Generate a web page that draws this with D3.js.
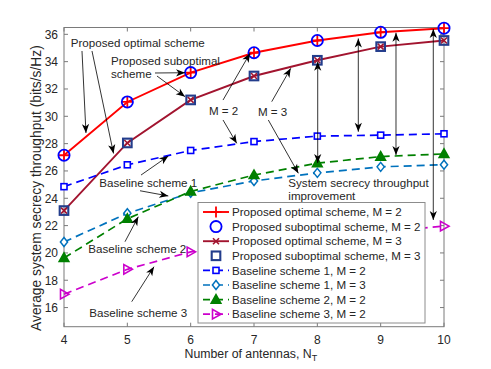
<!DOCTYPE html>
<html>
<head>
<meta charset="utf-8">
<script src="https://cdn.jsdelivr.net/npm/d3@7"></script>
<style>
  body { margin: 0; background: #fff; }
  svg text { font-family: "Liberation Sans", Arial, Helvetica, sans-serif; fill: #262626; }
</style>
</head>
<body>
<svg id="chart"></svg>
<script>
var width = 491,
  height = 369;

// x values: number of antennas
var antennas = [4, 5, 6, 7, 8, 9, 10];
var xTicks = [4, 5, 6, 7, 8, 9, 10];
var yTicks = [16, 18, 20, 22, 24, 26, 28, 30, 32, 34, 36];

// series values
var optimalM2 = [27.15, 31.05, 33.2, 34.65, 35.55, 36.15, 36.45];
var suboptimalM2 = [27.15, 31.05, 33.2, 34.65, 35.55, 36.15, 36.45];
var optimalM3 = [23.1, 28.05, 31.2, 32.95, 34.1, 35.1, 35.55];
var suboptimalM3 = [23.1, 28.05, 31.2, 32.95, 34.1, 35.1, 35.55];
var baseline1M2 = [24.85, 26.45, 27.5, 28.15, 28.55, 28.62, 28.72];
var baseline1M3 = [20.8, 22.9, 24.4, 25.27, 25.86, 26.3, 26.46];
var baseline2M2 = [19.63, 22.5, 24.5, 25.7, 26.57, 27.05, 27.25];
var baseline3M2 = [16.98, 18.8, 20.08, 20.6, 21.1, 21.55, 21.96];

var seriesNames = [
  "Proposed optimal scheme, M = 2",
  "Proposed suboptimal scheme, M = 2",
  "Proposed optimal scheme, M = 3",
  "Proposed suboptimal scheme, M = 3",
  "Baseline scheme 1, M = 2",
  "Baseline scheme 1, M = 3",
  "Baseline scheme 2, M = 2",
  "Baseline scheme 3, M = 2"
];
var seriesValues = [optimalM2, suboptimalM2, optimalM3, suboptimalM3, baseline1M2, baseline1M3, baseline2M2, baseline3M2];

var styles = [
  { color: "#ff0000", line: "solid", marker: "plus" },
  { color: "#0000ff", line: "none", marker: "circle" },
  { color: "#a2142f", line: "solid", marker: "cross" },
  { color: "#233d8c", line: "none", marker: "square" },
  { color: "#0000ff", line: "dash", marker: "smallsquare" },
  { color: "#0072bd", line: "dash", marker: "diamond" },
  { color: "#008000", line: "dash", marker: "triangle" },
  { color: "#cc00cc", line: "dash", marker: "righttri" }
];

// text annotations, in data coordinates
var notes = [
  { x: 4.106, y: 35.05, lines: ["Proposed optimal scheme"] },
  { x: 4.742, y: 33.76, lines: ["Proposed suboptimal", "scheme"] },
  { x: 6.289, y: 30.1, lines: ["M = 2"] },
  { x: 7.063, y: 30.02, lines: ["M = 3"] },
  { x: 7.542, y: 24.86, lines: ["System secrecy throughput", "improvement"] },
  { x: 4.557, y: 24.79, lines: ["Baseline scheme 1"] },
  { x: 4.384, y: 19.96, lines: ["Baseline scheme 2"] },
  { x: 4.399, y: 15.31, lines: ["Baseline scheme 3"] }
];

// arrows [x1, y1, x2, y2, doubleHeaded, lowerEnd]
var arrows = [
  [4.284, 34.78, 4.347, 28.78, false],
  [4.442, 34.78, 4.782, 27.28, false],
  [5.437, 33.17, 5.911, 33.19, false],
  [5.468, 32.95, 5.911, 31.44, false],
  [6.511, 31.19, 6.937, 34.61, false],
  [6.511, 29.73, 6.727, 28.02, false],
  [7.28, 31.07, 7.58, 33.51, false],
  [7.226, 29.73, 7.70, 25.83, false],
  [5.216, 25.7, 5.647, 27.09, false],
  [5.2, 24.55, 5.647, 24.17, false],
  [4.963, 20.82, 5.173, 22.65, false],
  [5.069, 16.43, 5.421, 18.99, false],
  [8.006, 30.0, 8.006, 34.0, true, 26.58],
  [8.647, 32.0, 8.647, 35.7, true, 28.87],
  [9.242, 32.0, 9.242, 36.12, true, 27.17],
  [9.831, 30.0, 9.831, 36.39, true, 22.41]
];

var plotLeft = 64, plotRight = 444, plotTop = 27.5, plotBottom = 326.7;

var x = d3.scaleLinear().domain([4, 10]).range([plotLeft, plotRight]);
var y = d3.scaleLinear().domain([14.6, 36.5]).range([plotBottom, plotTop]);

var svg = d3.select("#chart")
  .attr("width", width)
  .attr("height", height);

var fontSize = 11.6;

// box + ticks
var axisColor = "#7a7a7a";
svg.append("rect")
  .attr("x", plotLeft).attr("y", plotTop)
  .attr("width", plotRight - plotLeft).attr("height", plotBottom - plotTop)
  .attr("fill", "none").attr("stroke", axisColor).attr("stroke-width", 1);

var tickLen = 4;
xTicks.forEach(function (t) {
  svg.append("line").attr("x1", x(t)).attr("x2", x(t)).attr("y1", plotBottom).attr("y2", plotBottom - tickLen).attr("stroke", axisColor);
  svg.append("line").attr("x1", x(t)).attr("x2", x(t)).attr("y1", plotTop).attr("y2", plotTop + tickLen).attr("stroke", axisColor);
  svg.append("text").attr("x", x(t)).attr("y", plotBottom + 17)
    .attr("text-anchor", "middle").attr("font-size", 12).text(t);
});
yTicks.forEach(function (t) {
  svg.append("line").attr("x1", plotLeft).attr("x2", plotLeft + tickLen).attr("y1", y(t)).attr("y2", y(t)).attr("stroke", axisColor);
  svg.append("line").attr("x1", plotRight).attr("x2", plotRight - tickLen).attr("y1", y(t)).attr("y2", y(t)).attr("stroke", axisColor);
  svg.append("text").attr("x", plotLeft - 6).attr("y", y(t) + 4.3)
    .attr("text-anchor", "end").attr("font-size", 12).text(t);
});

// axis labels
var xl = svg.append("text").attr("x", 184.5).attr("y", 357.5).attr("font-size", 12.3);
xl.append("tspan").text("Number of antennas, N");
xl.append("tspan").attr("dy", 3.5).attr("font-size", 9).text("T");

svg.append("text")
  .attr("transform", "translate(41," + ((plotTop + plotBottom) / 2 + 11) + ") rotate(-90)")
  .attr("text-anchor", "middle").attr("font-size", 13.8)
  .text("Average system secrecy throughput (bits/s/Hz)");

// marker drawing
function drawMarker(g, type, color, cx, cy) {
  if (type === "plus") {
    g.append("path").attr("d", "M" + (cx - 5.5) + "," + cy + "H" + (cx + 5.5) + "M" + cx + "," + (cy - 5.5) + "V" + (cy + 5.5))
      .attr("stroke", color).attr("stroke-width", 1.8).attr("fill", "none");
  } else if (type === "circle") {
    g.append("circle").attr("cx", cx).attr("cy", cy).attr("r", 5.6)
      .attr("stroke", color).attr("stroke-width", 1.8).attr("fill", "none");
  } else if (type === "cross") {
    var s = 3;
    g.append("path").attr("d", "M" + (cx - s) + "," + (cy - s) + "L" + (cx + s) + "," + (cy + s) + "M" + (cx - s) + "," + (cy + s) + "L" + (cx + s) + "," + (cy - s))
      .attr("stroke", color).attr("stroke-width", 1.6).attr("fill", "none");
  } else if (type === "square") {
    g.append("rect").attr("x", cx - 4.3).attr("y", cy - 4.3).attr("width", 8.6).attr("height", 8.6)
      .attr("stroke", color).attr("stroke-width", 2.1).attr("fill", "none");
  } else if (type === "smallsquare") {
    g.append("rect").attr("x", cx - 3).attr("y", cy - 3).attr("width", 6).attr("height", 6)
      .attr("stroke", color).attr("stroke-width", 1.6).attr("fill", "#fff");
  } else if (type === "diamond") {
    g.append("path").attr("d", "M" + cx + "," + (cy - 4.5) + "L" + (cx + 3.6) + "," + cy + "L" + cx + "," + (cy + 4.5) + "L" + (cx - 3.6) + "," + cy + "Z")
      .attr("stroke", color).attr("stroke-width", 1.5).attr("fill", "#fff");
  } else if (type === "triangle") {
    g.append("path").attr("d", "M" + cx + "," + (cy - 5) + "L" + (cx + 4.8) + "," + (cy + 3.5) + "L" + (cx - 4.8) + "," + (cy + 3.5) + "Z")
      .attr("stroke", color).attr("stroke-width", 1.6).attr("fill", color);
  } else if (type === "righttri") {
    g.append("path").attr("d", "M" + (cx + 5) + "," + cy + "L" + (cx - 3.5) + "," + (cy - 4.8) + "L" + (cx - 3.5) + "," + (cy + 4.8) + "Z")
      .attr("stroke", color).attr("stroke-width", 1.6).attr("fill", "none");
  }
}

var line = d3.line()
  .x(function (d, i) { return x(antennas[i]); })
  .y(function (d) { return y(d); });

seriesValues.forEach(function (vals, k) {
  var st = styles[k];
  var g = svg.append("g");
  if (st.line !== "none") {
    g.append("path").datum(vals).attr("d", line)
      .attr("fill", "none").attr("stroke", st.color).attr("stroke-width", st.line === "solid" ? 1.9 : 1.7)
      .attr("stroke-dasharray", st.line === "dash" ? "8,5" : null);
  }
  vals.forEach(function (v, i) {
    drawMarker(g, st.marker, st.color, x(antennas[i]), y(v));
  });
});

// annotations
function arrowHead(g, x1, y1, x2, y2) {
  var a = Math.atan2(y2 - y1, x2 - x1) * 180 / Math.PI;
  g.append("path").attr("d", "M0,0L-9,-3.6L-6.5,0L-9,3.6Z")
    .attr("transform", "translate(" + x2 + "," + y2 + ") rotate(" + a + ")")
    .attr("fill", "#000");
}

var ann = svg.append("g");
arrows.forEach(function (a) {
  var x1 = x(a[0]), y1 = y(a[1]), x2 = x(a[2]), y2 = y(a[3]);
  if (a[4]) {
    y1 = y(a[5]);
    ann.append("line").attr("x1", x1).attr("y1", y1).attr("x2", x2).attr("y2", y2)
      .attr("stroke", "#000").attr("stroke-width", 0.8);
    arrowHead(ann, x1, y1, x2, y2);
    arrowHead(ann, x2, y2, x1, y1);
  } else {
    ann.append("line").attr("x1", x1).attr("y1", y1).attr("x2", x2).attr("y2", y2)
      .attr("stroke", "#000").attr("stroke-width", 0.8);
    arrowHead(ann, x1, y1, x2, y2);
  }
});

notes.forEach(function (n) {
  var t = ann.append("text").attr("x", x(n.x)).attr("y", y(n.y)).attr("font-size", fontSize);
  n.lines.forEach(function (s, i) {
    t.append("tspan").attr("x", x(n.x)).attr("dy", i === 0 ? 0 : 13.5).text(s);
  });
});

// legend
var lg = svg.append("g");
var lgX = 198, lgY = 202.5, rowH = 14.6;
lg.append("rect").attr("x", lgX).attr("y", lgY).attr("width", 227).attr("height", 120.5)
  .attr("fill", "#fff").attr("stroke", "#8c8c8c").attr("stroke-width", 1);
seriesNames.forEach(function (name, k) {
  var st = styles[k];
  var cy = lgY + 9.5 + k * rowH;
  if (st.line !== "none") {
    lg.append("line").attr("x1", lgX + 5).attr("x2", lgX + 31).attr("y1", cy).attr("y2", cy)
      .attr("stroke", st.color).attr("stroke-width", st.line === "solid" ? 1.9 : 1.7)
      .attr("stroke-dasharray", st.line === "dash" ? "8,5" : null)
      .attr("stroke-dashoffset", st.line === "dash" ? 1 : null);
  }
  drawMarker(lg, st.marker, st.color, lgX + 18, cy);
  lg.append("text").attr("x", lgX + 34).attr("y", cy + 4.2).attr("font-size", fontSize).text(name);
});
</script>
</body>
</html>
